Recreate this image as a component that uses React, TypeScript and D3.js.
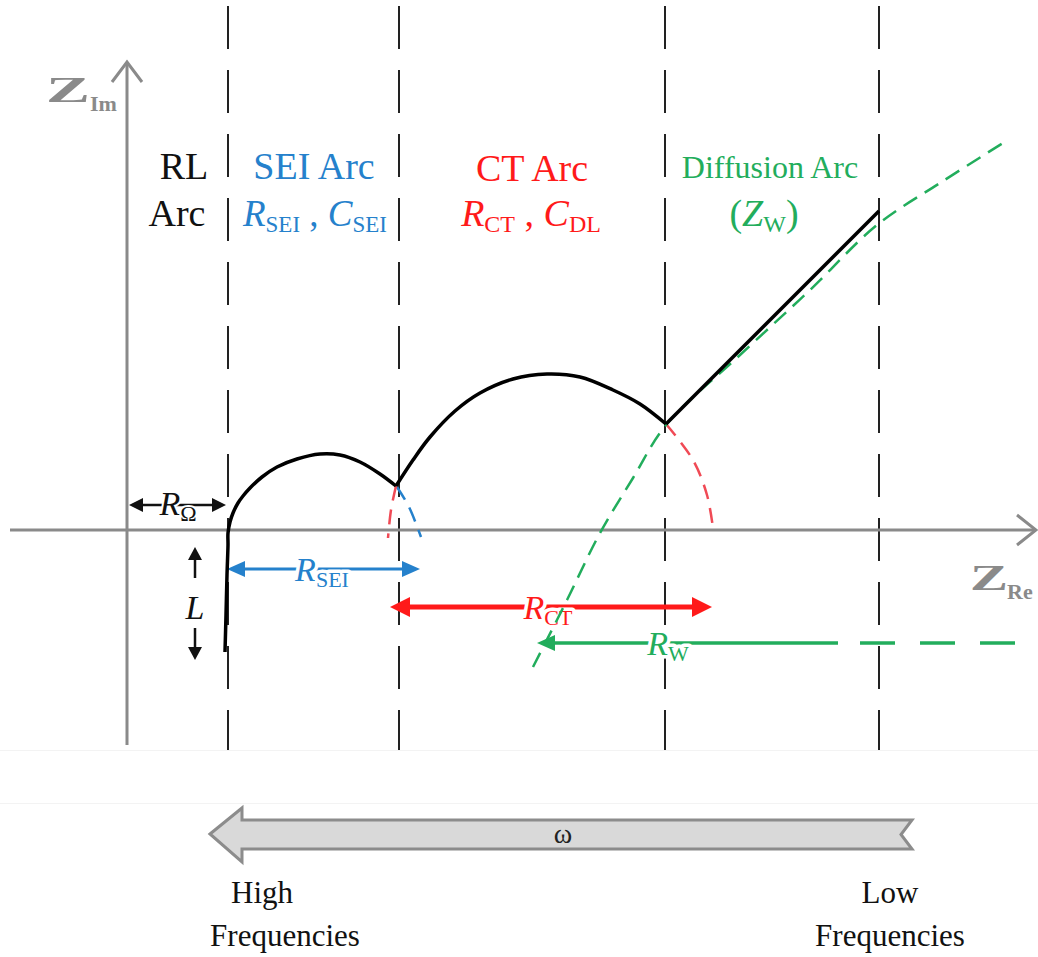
import React from "react";
import * as d3 from "d3";

const W = 1038;
const H = 957;

// ---- data (arbitrary Ω units, origin at axes crossing) ----
const regionBounds = [10.1, 27.2, 53.8, 75.2];

const tailAndSeiArc: [number, number][] = [
  [9.8, -12.2], [9.9, -8.5], [10.0, -4.5], [10.1, -1.5], [10.1, -0.3], [10.3, 0.8],
  [10.6, 1.7], [11.1, 2.7], [11.6, 3.4], [12.3, 4.2], [13.5, 5.3], [15.0, 6.3],
  [17.0, 7.1], [19.3, 7.6], [21.3, 7.5], [23.3, 6.8], [25.3, 5.6], [26.9, 4.4],
];
const ctArc: [number, number][] = [
  [26.9, 4.4], [28.6, 7.0], [30.3, 9.3], [32.8, 11.9], [35.3, 13.7], [38.6, 15.1],
  [42.0, 15.6], [45.3, 15.3], [48.6, 14.0], [51.3, 12.6], [53.9, 10.6],
];
const seiArcExtension: [number, number][] = [[27.0, 4.3], [28.2, 2.3], [29.4, -0.7]];
const ctArcLeftExtension: [number, number][] = [[26.9, 4.4], [26.4, 2.0], [26.1, -0.8]];
const ctArcRightExtension: [number, number][] = [[53.9, 10.6], [56.6, 7.0], [58.0, 3.5], [58.6, 0.2]];
const warburgArc: [number, number][] = [
  [40.6, -13.7], [44.0, -7.0], [47.3, -0.3], [50.6, 5.2], [53.9, 10.5], [61.3, 17.5],
  [68.3, 24.0], [75.0, 30.5], [81.3, 34.7], [87.6, 38.7],
];
const warburgLine: [number, number][] = [[53.9, 10.6], [75.2, 31.9]];

const rOhmSpan = [0.2, 9.9];
const rOhmLevel = 2.5;
const rSeiSpan = [10.0, 29.3];
const rSeiLevel = -3.9;
const rCtSpan = [26.3, 58.5];
const rCtLevel = -7.7;
const rWSpan = [41.0, 71.1, 73.3, 89.0];
const rWLevel = -11.3;
const inductanceX = 6.8;
const inductanceUp = [-4.8, -1.7];
const inductanceDown = [-9.8, -13.0];

const axisX = [-11.7, 90.9];
const axisY = [-21.5, 46.8];

const x = d3.scaleLinear().domain([0, 10]).range([127, 227]);
const y = d3.scaleLinear().domain([0, 10]).range([530, 430]);

const smooth = d3
  .line<[number, number]>()
  .x((d) => x(d[0]))
  .y((d) => y(d[1]))
  .curve(d3.curveCatmullRom.alpha(0.5));
const straight = d3
  .line<[number, number]>()
  .x((d) => x(d[0]))
  .y((d) => y(d[1]));

function head(tx: number, ty: number, ang: number, len: number, hw: number) {
  const c = Math.cos(ang);
  const s = Math.sin(ang);
  const bx = tx - c * len;
  const by = ty - s * len;
  return `M${tx},${ty}L${bx - s * hw},${by + c * hw}L${bx + s * hw},${by - c * hw}Z`;
}

const SERIF = "'Liberation Serif', 'Times New Roman', serif";
const BLUE = "#2581cc";
const RED = "#ff1a1a";
const GREEN = "#22ad5c";
const GRAY = "#8a8a8a";

function DimArrow({ x0, x1, lv, color, w, hl, hw }: any) {
  const yy = y(lv);
  const a = x(x0);
  const b = x(x1);
  return (
    <g>
      <line x1={a + hl * 0.8} x2={b - hl * 0.8} y1={yy} y2={yy} stroke={color} strokeWidth={w} />
      <path d={head(a, yy, Math.PI, hl, hw)} fill={color} />
      <path d={head(b, yy, 0, hl, hw)} fill={color} />
    </g>
  );
}

export default function App() {
  const halo = { stroke: "#fff", strokeWidth: 7, paintOrder: "stroke" as any, strokeLinejoin: "round" as any };
  const yTop = y(53);
  const yBot = y(-22);
  return (
    <svg width={W} height={H} style={{ position: "absolute", left: 0, top: 0, background: "#fff" }} fontFamily={SERIF}>
      <rect x={0} y={0} width={W} height={H} fill="#fff" />
      {/* faint panel edges */}
      <line x1={0} x2={W} y1={750.5} y2={750.5} stroke="#f3f3f3" strokeWidth={1} />
      <line x1={0} x2={W} y1={803.5} y2={803.5} stroke="#f3f3f3" strokeWidth={1} />

      {/* region boundaries */}
      {regionBounds.map((b, i) => (
        <line key={i} x1={x(b)} x2={x(b)} y1={yTop} y2={yBot} stroke="#222" strokeWidth={2} strokeDasharray="43 21" strokeDashoffset={58 - (yTop - 0)} />
      ))}

      {/* axes */}
      <line x1={x(0)} x2={x(0)} y1={y(axisY[0])} y2={y(axisY[1])} stroke={GRAY} strokeWidth={3} />
      <path d={`M${x(0) - 15},${y(axisY[1]) + 20}L${x(0)},${y(axisY[1])}L${x(0) + 15},${y(axisY[1]) + 20}`} fill="none" stroke={GRAY} strokeWidth={3} />
      <line x1={x(axisX[0])} x2={x(axisX[1])} y1={y(0)} y2={y(0)} stroke={GRAY} strokeWidth={3} />
      <path d={`M${x(axisX[1]) - 19},${y(0) - 15}L${x(axisX[1])},${y(0)}L${x(axisX[1]) - 19},${y(0) + 15}`} fill="none" stroke={GRAY} strokeWidth={3} />

      {/* axis labels */}
      <text x={46} y={102} fontSize={36} fontWeight="bold" fill={GRAY} textLength={44} lengthAdjust="spacingAndGlyphs">Z</text>
      <text x={90} y={111} fontSize={22} fontWeight="bold" fill={GRAY}>Im</text>
      <text x={970} y={590} fontSize={36} fontWeight="bold" fill={GRAY} textLength={38} lengthAdjust="spacingAndGlyphs">Z</text>
      <text x={1007} y={599} fontSize={22} fontWeight="bold" fill={GRAY}>Re</text>

      {/* region titles */}
      <g fontSize={38} textAnchor="middle">
        <text x={184} y={179} fill="#111">RL</text>
        <text x={177} y={226} fill="#111">Arc</text>
        <text x={314} y={179} fill={BLUE}>SEI Arc</text>
        <text x={315} y={226} fill={BLUE} fontSize={37}>
          <tspan fontStyle="italic">R</tspan>
          <tspan fontSize={23} dy={6}>SEI</tspan>
          <tspan dy={-6}> , </tspan>
          <tspan fontStyle="italic">C</tspan>
          <tspan fontSize={23} dy={6}>SEI</tspan>
        </text>
        <text x={532} y={181} fill={RED}>CT Arc</text>
        <text x={531} y={226} fill={RED}>
          <tspan fontStyle="italic">R</tspan>
          <tspan fontSize={24} dy={6}>CT</tspan>
          <tspan dy={-6}> , </tspan>
          <tspan fontStyle="italic">C</tspan>
          <tspan fontSize={24} dy={6}>DL</tspan>
        </text>
        <text x={770} y={178} fill={GREEN} fontSize={32}>Diffusion Arc</text>
        <text x={764} y={226} fill={GREEN} fontSize={38}>
          <tspan>(</tspan>
          <tspan fontStyle="italic">Z</tspan>
          <tspan fontSize={24} dy={6}>W</tspan>
          <tspan dy={-6}>)</tspan>
        </text>
      </g>

      {/* dashed arc continuations */}
      <path d={smooth(seiArcExtension) || ""} fill="none" stroke={BLUE} strokeWidth={2.5} strokeDasharray="15 9" />
      <path d={smooth(ctArcLeftExtension) || ""} fill="none" stroke="#f04a55" strokeWidth={2.5} strokeDasharray="15 9" />
      <path d={smooth(ctArcRightExtension) || ""} fill="none" stroke="#f04a55" strokeWidth={2.5} strokeDasharray="15 9" />

      {/* dimension arrows */}
      <DimArrow x0={rOhmSpan[0]} x1={rOhmSpan[1]} lv={rOhmLevel} color="#111" w={2.5} hl={14} hw={7} />
      <DimArrow x0={rSeiSpan[0]} x1={rSeiSpan[1]} lv={rSeiLevel} color={BLUE} w={3} hl={18} hw={8} />
      <DimArrow x0={rCtSpan[0]} x1={rCtSpan[1]} lv={rCtLevel} color={RED} w={5} hl={20} hw={10} />
      <g>
        <line x1={x(rWSpan[0]) + 14} x2={x(rWSpan[1])} y1={y(rWLevel)} y2={y(rWLevel)} stroke={GREEN} strokeWidth={3.5} />
        <path d={head(x(rWSpan[0]), y(rWLevel), Math.PI, 18, 8)} fill={GREEN} />
        <line x1={x(rWSpan[2])} x2={x(rWSpan[3])} y1={y(rWLevel)} y2={y(rWLevel)} stroke={GREEN} strokeWidth={3.5} strokeDasharray="35 25" />
      </g>
      {/* inductance arrows */}
      <line x1={x(inductanceX)} x2={x(inductanceX)} y1={y(inductanceUp[0])} y2={y(inductanceUp[1]) + 10} stroke="#111" strokeWidth={2.5} />
      <path d={head(x(inductanceX), y(inductanceUp[1]), -Math.PI / 2, 13, 7)} fill="#111" />
      <line x1={x(inductanceX)} x2={x(inductanceX)} y1={y(inductanceDown[0])} y2={y(inductanceDown[1]) - 10} stroke="#111" strokeWidth={2.5} />
      <path d={head(x(inductanceX), y(inductanceDown[1]), Math.PI / 2, 13, 7)} fill="#111" />

      {/* dimension labels */}
      <g textAnchor="middle" fontSize={34}>
        <text x={x(5.1)} y={y(rOhmLevel) + 10} fill="#111" {...halo} strokeWidth={4}>
          <tspan fontStyle="italic">R</tspan>
          <tspan fontSize={22} dy={6}>Ω</tspan>
        </text>
        <text x={x(inductanceX)} y={y(-8.9)} fill="#111" fontStyle="italic">L</text>
        <text x={x(19.5)} y={y(rSeiLevel) + 12} fill={BLUE} {...halo}>
          <tspan fontStyle="italic">R</tspan>
          <tspan fontSize={22} dy={6}>SEI</tspan>
        </text>
        <text x={x(42.1)} y={y(rCtLevel) + 12} fill={RED} {...halo}>
          <tspan fontStyle="italic">R</tspan>
          <tspan fontSize={22} dy={6}>CT</tspan>
        </text>
        <text x={x(54.1)} y={y(rWLevel) + 12} fill={GREEN} {...halo}>
          <tspan fontStyle="italic">R</tspan>
          <tspan fontSize={22} dy={6}>W</tspan>
        </text>
      </g>

      {/* Warburg (diffusion) arc */}
      <path d={smooth(warburgArc) || ""} fill="none" stroke={GREEN} strokeWidth={2.5} strokeDasharray="16 9" />

      {/* impedance spectrum */}
      <path d={smooth(tailAndSeiArc) || ""} fill="none" stroke="#000" strokeWidth={3.5} strokeLinejoin="round" />
      <path d={smooth(ctArc) || ""} fill="none" stroke="#000" strokeWidth={3.5} strokeLinejoin="round" />
      <path d={straight(warburgLine) || ""} fill="none" stroke="#000" strokeWidth={3.5} />

      {/* frequency arrow */}
      <path
        d={`M${x(8.3)},834 L${x(11.5)},808 L${x(11.5)},820 L${x(78.5)},820 L${x(77.4)},834.5 L${x(78.5)},849 L${x(11.5)},849 L${x(11.5)},862 Z`}
        fill="#d9d9d9"
        stroke="#8c8c8c"
        strokeWidth={3}
        strokeLinejoin="miter"
      />
      <text x={x(43.6)} y={843} fontSize={28} textAnchor="middle" fill="#222">ω</text>

      <g fontSize={31} textAnchor="middle" fill="#111">
        <text x={262} y={903}>High</text>
        <text x={285} y={946}>Frequencies</text>
        <text x={890} y={903}>Low</text>
        <text x={890} y={946}>Frequencies</text>
      </g>
    </svg>
  );
}
